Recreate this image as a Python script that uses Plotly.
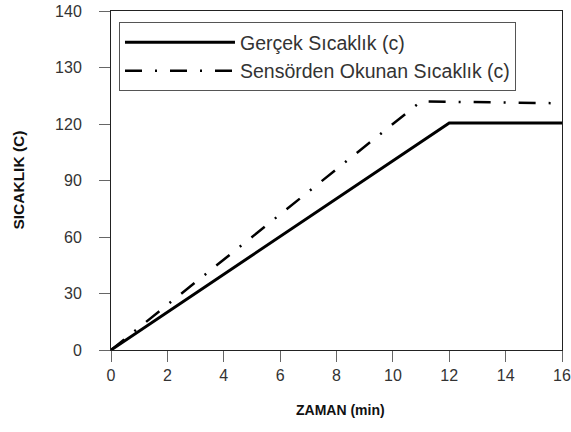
import plotly.graph_objects as go

# Data
zaman_gercek = [0, 12, 16]
sicaklik_gercek = [0, 120.5, 120.5]
zaman_sensor = [0, 11, 16]
sicaklik_sensor = [0, 132, 131]

x_ticks = [0, 2, 4, 6, 8, 10, 12, 14, 16]
y_tickvals = [0, 30, 60, 90, 120, 150, 180]
y_ticktext = ["0", "30", "60", "90", "120", "130", "140"]

fig = go.Figure()
fig.add_trace(go.Scatter(x=zaman_gercek, y=sicaklik_gercek, mode="lines",
                         name="Gerçek Sıcaklık (c)",
                         line=dict(color="#000000", width=3)))
fig.add_trace(go.Scatter(x=zaman_sensor, y=sicaklik_sensor, mode="lines",
                         name="Sensörden Okunan Sıcaklık (c)",
                         line=dict(color="#000000", width=2.5, dash="17px,13px,2px,13px")))

font_family = "Liberation Sans, Arial, sans-serif"
fig.update_layout(
    width=571, height=432,
    margin=dict(l=111, r=9, t=11, b=82, autoexpand=False),
    paper_bgcolor="white", plot_bgcolor="white",
    font=dict(family=font_family, color="#333333"),
    showlegend=True,
    legend=dict(x=0.0177, y=0.967, xanchor="left", yanchor="top",
                bgcolor="white", bordercolor="#555555", borderwidth=1,
                font=dict(size=19.5, color="#333333", family=font_family),
                itemwidth=110, tracegroupgap=0),
    xaxis=dict(range=[0, 16], tickvals=x_ticks, ticks="outside", ticklen=11,
               tickcolor="#666666", showline=True, linecolor="#222222", linewidth=1,
               mirror=True, showgrid=False, zeroline=False, automargin=False,
               ticklabeloverflow="allow",
               tickfont=dict(size=16, color="#333333")),
    yaxis=dict(range=[0, 180], tickvals=y_tickvals, ticktext=y_ticktext, ticks="outside",
               ticklen=11, tickcolor="#666666", showline=True, linecolor="#222222", linewidth=1,
               mirror=True, showgrid=False, zeroline=False, automargin=False,
               ticklabeloverflow="allow", ticklabelstandoff=14,
               tickfont=dict(size=16, color="#333333")),
    annotations=[
        dict(text="<b>ZAMAN (min)</b>", xref="paper", yref="paper", x=0.508, y=-0.177,
             xanchor="center", yanchor="middle", showarrow=False,
             font=dict(size=14, color="#111111", family=font_family)),
        dict(text="<b>SICAKLIK (C)</b>", xref="paper", yref="paper", x=-0.206, y=0.5,
             xanchor="center", yanchor="middle", showarrow=False, textangle=-90,
             font=dict(size=15.5, color="#111111", family=font_family)),
    ],
)

fig.write_html(
    "out.html",
    config={"displayModeBar": False},
    post_script="document.body.style.margin='0';document.body.style.overflow='hidden';",
)
